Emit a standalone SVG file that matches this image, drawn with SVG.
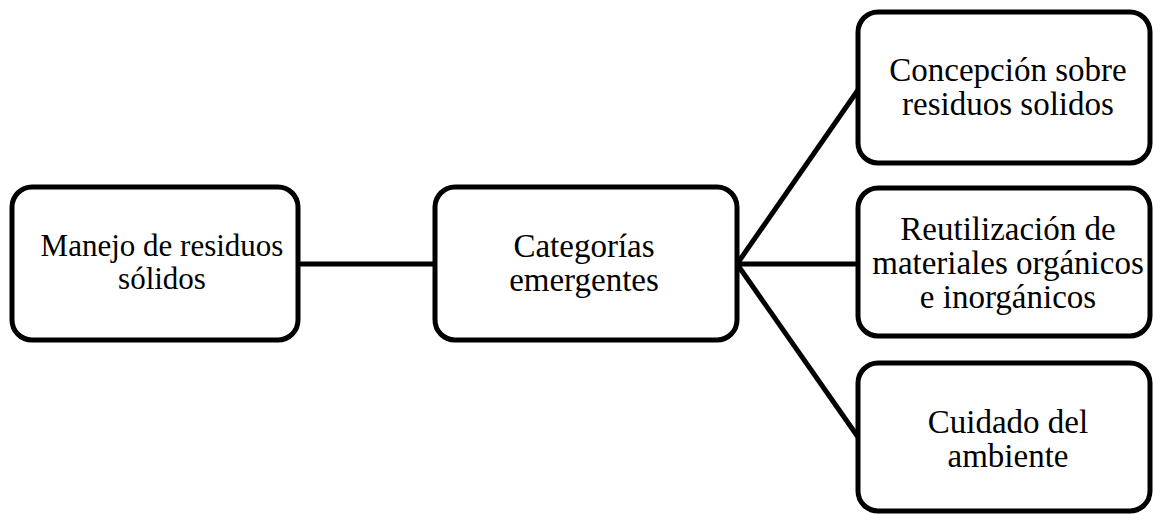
<svg xmlns="http://www.w3.org/2000/svg" width="1153" height="514" viewBox="0 0 1153 514">
<style>
.box{fill:#fff;stroke:#000;stroke-width:5}
.c{fill:none;stroke:#000;stroke-width:5}
text{font-family:"Liberation Serif","Times New Roman",serif;font-size:33px;fill:#000;text-anchor:middle}
.t1{font-size:31px}
</style>
<rect width="1153" height="514" fill="#fff"/>
<g id="connectors">
<line class="c" x1="298" y1="264" x2="434" y2="264"/>
<line class="c" x1="737" y1="264" x2="858" y2="90"/>
<line class="c" x1="737" y1="264" x2="858" y2="264"/>
<line class="c" x1="737" y1="264" x2="858" y2="437"/>
</g>
<g id="n1">
<rect class="box" x="12" y="187" width="286" height="153" rx="20"/>
<text class="t1" x="162" y="256">Manejo de residuos</text>
<text class="t1" x="162" y="289">sólidos</text>
</g>
<g id="n2">
<rect class="box" x="435" y="187" width="302" height="153" rx="20"/>
<text x="584" y="257">Categorías</text>
<text x="584" y="291">emergentes</text>
</g>
<g id="n3">
<rect class="box" x="858" y="12" width="292" height="151" rx="20"/>
<text x="1008" y="81">Concepción sobre</text>
<text x="1008" y="115">residuos solidos</text>
</g>
<g id="n4">
<rect class="box" x="858" y="188" width="292" height="148" rx="20"/>
<text x="1008" y="240">Reutilización de</text>
<text x="1008" y="274">materiales orgánicos</text>
<text x="1008" y="308">e inorgánicos</text>
</g>
<g id="n5">
<rect class="box" x="858" y="363" width="292" height="148" rx="20"/>
<text x="1008" y="433">Cuidado del</text>
<text x="1008" y="467">ambiente</text>
</g>
</svg>
